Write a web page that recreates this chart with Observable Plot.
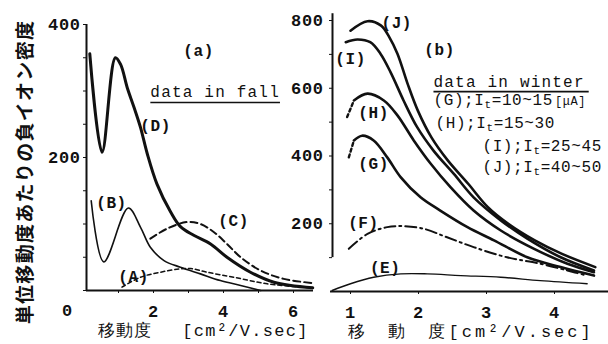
<!DOCTYPE html>
<html>
<head>
<meta charset="utf-8">
<script src="https://cdn.jsdelivr.net/npm/d3@7"></script>
<script src="https://cdn.jsdelivr.net/npm/@observablehq/plot@0.6"></script>
<style>
  html, body { margin: 0; padding: 0; background: #fff; }
  #wrap { position: relative; width: 608px; height: 344px; overflow: hidden; background: #fff; }
  #wrap svg { position: absolute; top: 0; }
  #ytitle {
    position: absolute; left: 23px; top: 172px;
    transform: translate(-50%, -50%) rotate(-90deg);
    white-space: nowrap; font-family: "Noto Sans CJK JP", sans-serif;
    font-weight: 700; font-size: 19px; letter-spacing: 1.3px; color: #111;
  }
</style>
</head>
<body>
<div id="wrap"><div id="ytitle">単位移動度あたりの負イオン密度</div></div>
<script>
// ---------------- Panel (a): data in fall ----------------
const aCurveA = [[1.1,5],[1.63,20],[2.2,27.5],[2.77,32.6],[3.06,33],[3.53,27.5],[4.29,20],[5.25,10],[6.49,4]];
const aCurveB = [[0.22,135],[0.58,43],[1.28,124],[1.63,95],[1.91,65],[2.3,45],[2.77,35],[3.34,25],[3.91,15],[4.49,7.5],[5.06,0]];
const aCurveC = [[1.91,78],[2.39,93],[2.96,103],[3.34,100],[3.72,88],[4.1,70],[4.49,50],[5.06,30],[5.72,17.5],[6.58,11]];
const aCurveD = [[0.18,356],[0.53,208],[0.91,350],[1.06,340],[1.25,305],[1.44,276],[1.63,245],[1.82,206],[2.1,160],[2.49,118],[2.77,96],[3.15,83],[3.63,70],[4.1,50],[4.77,27.5],[5.44,12.5],[6.55,4]];

const aXTicks = [1,2,3,4,5,6];
const aXTickLabels = [2,4,6];
const aYTicks = [0,50,100,150,200,250,300,350,400];
const aYTickLabels = [200,400];
const aOrigin = ["0"];

const aLabelTexts = ["(a)","(A)","(B)","(C)","(D)"];
const aLabelX = [3.29,1.43,0.80,4.29,2.06];
const aLabelY = [361,21,132,105,248];
const aNote = ["data in fall"];
const aXTitle = ["移動度　 [cm²/V.sec]"];

// ---------------- Panel (b): data in winter ----------------
const bCurveE = [[0.73,3],[1.0,23],[1.34,42],[1.74,52],[2.13,52],[2.62,47],[3.21,42],[3.79,32],[4.48,23]];
const bCurveF = [[0.975,126],[1.25,170],[1.54,190],[1.78,193],[2.08,185],[2.42,160],[2.81,131],[3.3,101],[3.79,82],[4.19,62],[4.48,47]];
const bCurveGStart = [[0.975,396],[1.05,446]];
const bCurveG = [[1.05,446],[1.17,460],[1.34,446],[1.54,396],[1.74,337],[2.03,278],[2.32,239],[2.72,190],[3.11,151],[3.6,101],[4.09,72],[4.58,47]];
const bCurveHStart = [[0.95,515],[1.05,564]];
const bCurveH = [[1.05,564],[1.25,584],[1.49,564],[1.69,520],[1.93,446],[2.18,377],[2.47,308],[2.81,239],[3.21,180],[3.7,126],[4.19,82],[4.58,57]];
const bCurveI = [[0.93,736],[1.1,744],[1.29,736],[1.44,702],[1.59,647],[1.78,564],[1.98,485],[2.22,416],[2.52,347],[2.81,278],[3.21,210],[3.6,156],[4.09,101],[4.58,62]];
const bCurveJ = [[1.0,770],[1.25,798],[1.45,785],[1.57,751],[1.69,702],[1.84,613],[1.99,534],[2.19,455],[2.43,387],[2.73,318],[3.02,249],[3.32,200],[3.71,151],[4.11,111],[4.6,72]];

const bXTicks = [1,2,3,4];
const bYTicks = [100,200,300,400,500,600,700,800];
const bYTickLabels = [200,400,600,800];

const bLabelTexts = ["(b)","(E)","(F)","(G)","(H)","(I)","(J)"];
const bLabelX = [2.31,1.51,1.19,1.34,1.34,1.00,1.68];
const bLabelY = [714,71,204,378,528,688,794];
const bNote = ["data in winter"];
const bLegend = ["(G);Iₜ=10~15[μA]","(H);Iₜ=15~30","(I);Iₜ=25~45","(J);Iₜ=40~50"];
const bLegendX = [2.22,2.25,2.94,2.94];
const bLegendY = [567,499,431,369];
const bXTitle = ["移　動　度[cm²/V.sec]"];

// ---------------- drawing ----------------
const INK = "#111";
const MONO = "'Liberation Mono', 'DejaVu Sans Mono', monospace";
const curve = (data, o) => Plot.line(data, {x: d => d[0], y: d => d[1], curve: "catmull-rom", stroke: INK, strokeLinecap: "round", strokeLinejoin: "round", ...o});

const xDomA = [0.0857, 6.5714];
const svgA = Plot.plot({
  width: 330, height: 344,
  marginLeft: 86, marginRight: 17, marginTop: 24, marginBottom: 54,
  x: {domain: xDomA, ticks: aXTicks, tickSize: 3, tickPadding: 11, tickFormat: d => aXTickLabels.includes(d) ? String(d) : "", label: null},
  y: {domain: [0, 400], ticks: aYTicks, tickSize: 3, tickPadding: 3, tickFormat: d => aYTickLabels.includes(d) ? String(d) : "", label: null},
  style: {fontFamily: MONO, fontSize: "17px", fontWeight: "bold", color: INK, background: "transparent", overflow: "visible"},
  marks: [
    Plot.ruleY([0], {x1: () => xDomA[0], x2: () => xDomA[1], stroke: INK, strokeWidth: 2}),
    Plot.ruleX([xDomA[0]], {y1: () => 0, y2: () => 400, stroke: INK, strokeWidth: 2}),
    curve(aCurveD, {strokeWidth: 3}),
    curve(aCurveB, {strokeWidth: 1.6}),
    curve(aCurveC, {strokeWidth: 2, strokeDasharray: "7,4"}),
    curve(aCurveA, {strokeWidth: 1.5, strokeDasharray: "4,3"}),
    Plot.text(aOrigin, {x: () => xDomA[0], y: () => 0, text: d => d, dx: -19, dy: 20, fontSize: 17, fill: INK}),
    Plot.text(aLabelTexts, {x: (d, i) => aLabelX[i], y: (d, i) => aLabelY[i], text: d => d, fontSize: 16, fill: INK}),
    Plot.text(aNote, {x: () => 1.91, y: () => 298, text: d => d, textAnchor: "start", fontSize: 16, fill: INK}),
    Plot.text(aXTitle, {x: () => 0.4, y: () => 0, text: d => d, textAnchor: "start", dy: 40, fontSize: 17, fill: INK})
  ]
});
svgA.style.left = "0px";

const xDomB = [0.735, 4.794];
const svgB = Plot.plot({
  width: 328, height: 344,
  marginLeft: 52, marginRight: 0, marginTop: 20, marginBottom: 53,
  x: {domain: xDomB, ticks: bXTicks, tickSize: 3, tickPadding: 11, tickFormat: d => String(d), label: null},
  y: {domain: [0, 800], ticks: bYTicks, tickSize: 3, tickPadding: 6, tickFormat: d => bYTickLabels.includes(d) ? String(d) : "", label: null},
  style: {fontFamily: MONO, fontSize: "17px", fontWeight: "bold", color: INK, background: "transparent", overflow: "visible"},
  marks: [
    Plot.ruleY([0], {x1: () => 0.706, x2: () => xDomB[1], stroke: INK, strokeWidth: 2}),
    Plot.ruleX([xDomB[0]], {y1: () => 100, y2: () => 820, stroke: INK, strokeWidth: 2}),
    curve(bCurveE, {strokeWidth: 1.4}),
    curve(bCurveF, {strokeWidth: 2, strokeDasharray: "11,4,2,4"}),
    curve(bCurveGStart, {strokeWidth: 2.4, strokeDasharray: "3,3"}),
    curve(bCurveG, {strokeWidth: 2.6}),
    curve(bCurveHStart, {strokeWidth: 2.4, strokeDasharray: "3,3"}),
    curve(bCurveH, {strokeWidth: 2.6}),
    curve(bCurveI, {strokeWidth: 2.6}),
    curve(bCurveJ, {strokeWidth: 2.6}),
    Plot.text(bLabelTexts, {x: (d, i) => bLabelX[i], y: (d, i) => bLabelY[i], text: d => d, fontSize: 16, fill: INK}),
    Plot.text(bNote, {x: () => 2.22, y: () => 620, text: d => d, textAnchor: "start", fontSize: 16, fill: INK}),
    Plot.text(bLegend, {x: (d, i) => bLegendX[i], y: (d, i) => bLegendY[i], text: d => d, textAnchor: "start", fontSize: 16, fill: INK}),
    Plot.text(bXTitle, {x: () => 0.97, y: () => 0, text: d => d, textAnchor: "start", dy: 40, fontSize: 17, fill: INK})
  ]
});
svgB.style.left = "280px";

const wrap = document.getElementById("wrap");
wrap.appendChild(svgA);
wrap.appendChild(svgB);

// ---------------- text post-processing ----------------
for (const svg of [svgA, svgB]) {
  const s = d3.select(svg);
  s.selectAll("text").style("letter-spacing", "0.6px");
  s.selectAll("text").each(function () {
    const el = d3.select(this);
    const t = this.textContent;
    if (t.startsWith("移動度")) el.style("letter-spacing", "1.3px").style("font-weight", "normal");
    if (t.startsWith("移　動")) el.style("letter-spacing", "3px").style("font-weight", "normal");
    if (t.startsWith("data in")) el.style("letter-spacing", "1.2px").style("font-weight", "normal");
    if (t.includes("ₜ")) {
      const [pre, post] = t.split("ₜ");
      const m = post.match(/^(.*?)(\[μA\])?$/);
      el.style("font-weight", "normal");
      el.text(null);
      el.append("tspan").text(pre);
      el.append("tspan").attr("font-size", 11).attr("dy", 3).text("t");
      el.append("tspan").attr("dy", -3).text(m[1]);
      if (m[2]) el.append("tspan").attr("font-size", 12).attr("dx", 2).text(m[2]);
    }
  });
  // underline the season notes (same local transform as the text)
  s.selectAll("text").filter(function () { return this.textContent.startsWith("data in"); }).each(function () {
    const b = this.getBBox();
    const extra = this.textContent.includes("winter") ? 4 : 0;
    const tr = this.getAttribute("transform");
    const ln = d3.select(this.parentNode).append("line")
      .attr("x1", b.x).attr("x2", b.x + b.width + extra)
      .attr("y1", b.y + b.height).attr("y2", b.y + b.height)
      .attr("stroke", INK).attr("stroke-width", 1.6);
    if (tr) ln.attr("transform", tr);
  });
}
</script>
</body>
</html>
